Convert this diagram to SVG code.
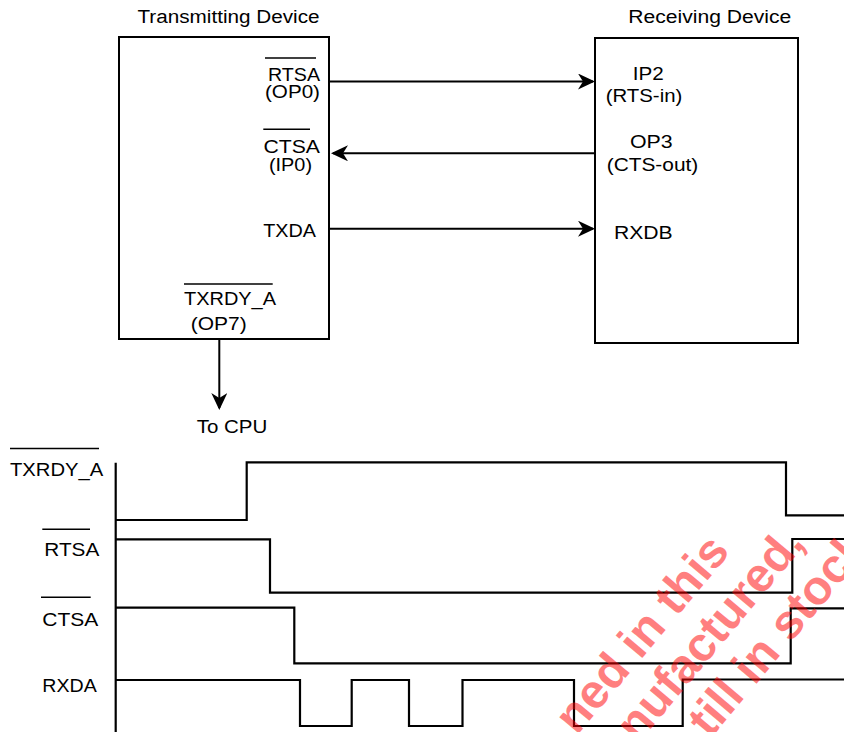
<svg xmlns="http://www.w3.org/2000/svg" width="844" height="732" viewBox="0 0 844 732">
<style>
  .t { font-family: "Liberation Sans", Arial, sans-serif; font-size: 18px; fill: #000; }
  .box { fill: #fff; stroke: #000; stroke-width: 2; }
  .ln { fill: none; stroke: #000; stroke-width: 2; }
  .bar { fill: none; stroke: #000; stroke-width: 1.6; }
  .sig { fill: none; stroke: #000; stroke-width: 2.2; stroke-linejoin: miter; }
  .wm { font-family: "Liberation Sans", Arial, sans-serif; font-weight: bold; font-size: 48px; fill: #ff0000; fill-opacity: 0.5; }
</style>
<defs>
  <marker id="ah" markerUnits="userSpaceOnUse" markerWidth="18" markerHeight="16" viewBox="0 0 18 16" refX="15" refY="8" orient="auto">
    <path d="M17,8 L0,0 L5,8 L0,16 Z" fill="#000"/>
  </marker>
</defs>
<rect width="844" height="732" fill="#fff"/>

<g id="transmitter">
  <text class="t" x="137.5" y="22.7" textLength="182" lengthAdjust="spacingAndGlyphs">Transmitting Device</text>
  <rect class="box" x="119" y="37" width="210" height="302"/>
  <line class="bar" x1="265" y1="58" x2="316" y2="58"/>
  <text class="t" x="268" y="81" textLength="52" lengthAdjust="spacingAndGlyphs">RTSA</text>
  <text class="t" x="265" y="97.5" textLength="55" lengthAdjust="spacingAndGlyphs">(OP0)</text>
  <line class="bar" x1="263.3" y1="129.3" x2="310" y2="129.3"/>
  <text class="t" x="263.5" y="153" textLength="56.5" lengthAdjust="spacingAndGlyphs">CTSA</text>
  <text class="t" x="269" y="170.5" textLength="43" lengthAdjust="spacingAndGlyphs">(IP0)</text>
  <text class="t" x="263.3" y="236.7" textLength="52.7" lengthAdjust="spacingAndGlyphs">TXDA</text>
  <line class="bar" x1="184" y1="284" x2="272.7" y2="284"/>
  <text class="t" x="184" y="305" textLength="92" lengthAdjust="spacingAndGlyphs">TXRDY_A</text>
  <text class="t" x="190.7" y="329.5" textLength="56" lengthAdjust="spacingAndGlyphs">(OP7)</text>
</g>

<g id="receiver">
  <text class="t" x="628.3" y="22.7" textLength="163" lengthAdjust="spacingAndGlyphs">Receiving Device</text>
  <rect class="box" x="595" y="38" width="203" height="305"/>
  <text class="t" x="632.7" y="80" textLength="31" lengthAdjust="spacingAndGlyphs">IP2</text>
  <text class="t" x="605.7" y="101.5" textLength="76.6" lengthAdjust="spacingAndGlyphs">(RTS-in)</text>
  <text class="t" x="630" y="148.3" textLength="42.7" lengthAdjust="spacingAndGlyphs">OP3</text>
  <text class="t" x="606.7" y="170.5" textLength="91.6" lengthAdjust="spacingAndGlyphs">(CTS-out)</text>
  <text class="t" x="614" y="239.3" textLength="58.7" lengthAdjust="spacingAndGlyphs">RXDB</text>
</g>

<g id="cpu">
  <text class="t" x="196.7" y="432.7" textLength="70.6" lengthAdjust="spacingAndGlyphs">To CPU</text>
</g>

<g id="connectors">
  <line class="ln" x1="329" y1="81.5" x2="593" y2="81.5" marker-end="url(#ah)"/>
  <line class="ln" x1="595" y1="153.3" x2="333" y2="153.3" marker-end="url(#ah)"/>
  <line class="ln" x1="329" y1="228.7" x2="593" y2="228.7" marker-end="url(#ah)"/>
  <line class="ln" x1="219.3" y1="339" x2="219.3" y2="408" marker-end="url(#ah)"/>
</g>

<g id="timing">
  <line class="sig" x1="115.7" y1="462.7" x2="115.7" y2="732"/>
  <line class="bar" x1="10" y1="448.5" x2="99" y2="448.5"/>
  <text class="t" x="10" y="475.7" textLength="93.3" lengthAdjust="spacingAndGlyphs">TXRDY_A</text>
  <line class="bar" x1="42.3" y1="529.3" x2="90" y2="529.3"/>
  <text class="t" x="44.3" y="556" textLength="55" lengthAdjust="spacingAndGlyphs">RTSA</text>
  <line class="bar" x1="41" y1="597.3" x2="90.7" y2="597.3"/>
  <text class="t" x="42.3" y="626" textLength="56" lengthAdjust="spacingAndGlyphs">CTSA</text>
  <text class="t" x="42.3" y="691.5" textLength="54.4" lengthAdjust="spacingAndGlyphs">RXDA</text>
  <path class="sig" d="M115.7,520 H246.7 V462.3 H786 V515.3 H846"/>
  <path class="sig" d="M115.7,539.3 H270 V592.7 H792.3 V539 H846"/>
  <path class="sig" d="M115.7,607.7 H294.3 V663.3 H790.7 V608.3 H846"/>
  <path class="sig" d="M115.7,680 H300 V726 H351.7 V680 H409 V726 H462.5 V680 H574 V726 H682.7 V679.5 H846"/>
</g>

<g id="watermark" transform="rotate(-50)">
  <text class="wm" x="-193" y="915">ned in this</text>
  <text class="wm" x="-160" y="967">nufactured,</text>
  <text class="wm" x="-110" y="1019">till in stock</text>
</g>
</svg>
